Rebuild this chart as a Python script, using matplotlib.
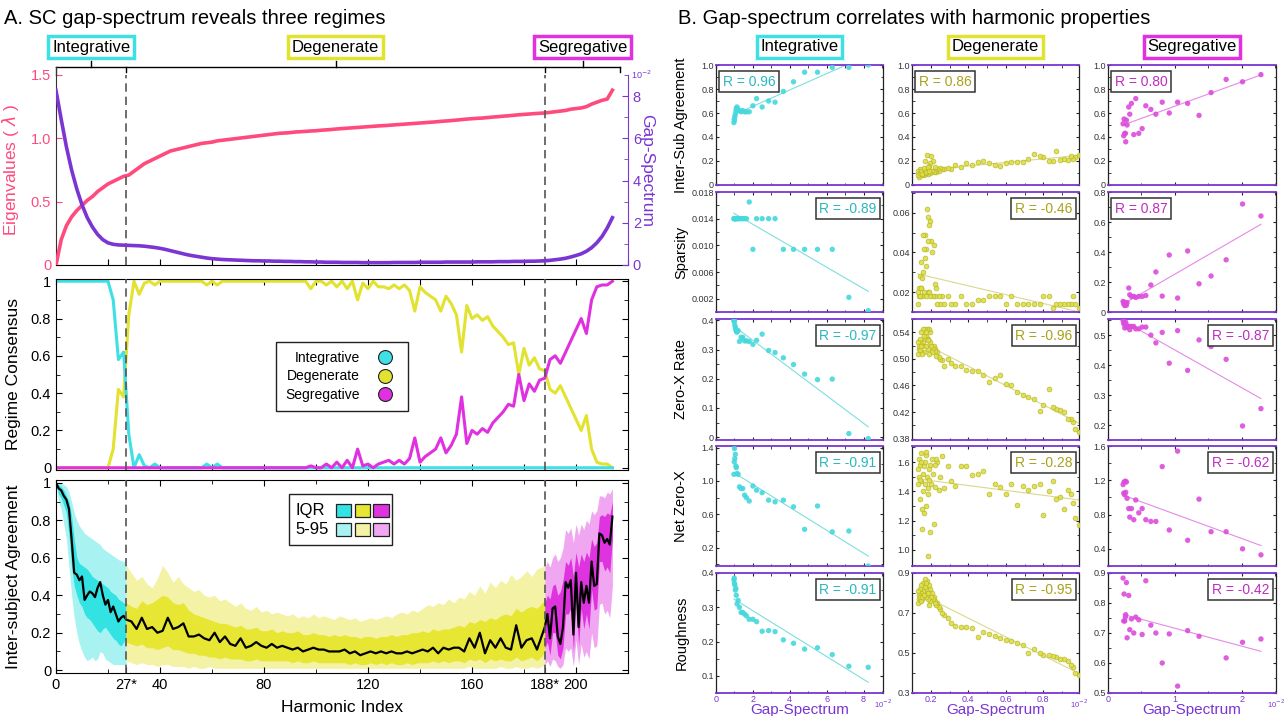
import numpy as np
import matplotlib.pyplot as plt
from matplotlib.lines import Line2D
from matplotlib.patches import Rectangle
from matplotlib.ticker import MultipleLocator

plt.rcParams['font.family'] = ['Liberation Sans', 'DejaVu Sans']

W, H = 1287, 716

# colours
PINK = '#ff4a7e'
PURPLE = '#7a35d2'
CYAN = '#3ee0e6'
YEL = '#e2e230'
MAG = '#e030e0'
CYAN_D, CYAN_L = '#33e3e3', '#a8f2f2'
YEL_D, YEL_L = '#e6e633', '#f4f2a4'
MAG_D, MAG_L = '#e033e0', '#f0a6f0'
DASH = '#555555'

regime_names = ['Integrative', 'Degenerate', 'Segregative']
regime_cols = [CYAN, YEL, MAG]
bounds = [0, 27, 188, 217]

# ---------------- panel A data (index grid step 2) ----------------
harm = np.arange(0, 215, 2)
eig = [0.00, 0.20, 0.31, 0.38, 0.43, 0.47, 0.51, 0.54, 0.58, 0.61,
       0.64, 0.66, 0.68, 0.70, 0.71, 0.74, 0.77, 0.80, 0.82, 0.84,
       0.86, 0.88, 0.90, 0.91, 0.92, 0.93, 0.94, 0.95, 0.96, 0.965,
       0.97, 0.98, 0.985, 0.99, 0.995, 1.00, 1.005, 1.01, 1.015, 1.02,
       1.025, 1.03, 1.035, 1.04, 1.042, 1.045, 1.05, 1.052, 1.055, 1.058,
       1.06, 1.064, 1.067, 1.07, 1.074, 1.077, 1.08, 1.083, 1.086, 1.089,
       1.092, 1.095, 1.098, 1.10, 1.103, 1.106, 1.109, 1.112, 1.115, 1.118,
       1.121, 1.124, 1.127, 1.13, 1.134, 1.137, 1.14, 1.144, 1.148, 1.152,
       1.155, 1.158, 1.16, 1.164, 1.168, 1.171, 1.175, 1.178, 1.182, 1.186,
       1.189, 1.192, 1.195, 1.198, 1.20, 1.205, 1.21, 1.215, 1.22, 1.23,
       1.235, 1.24, 1.25, 1.27, 1.285, 1.30, 1.31, 1.38]
gap = [8.27, 6.9, 5.6, 4.5, 3.6, 2.85, 2.25, 1.8, 1.45, 1.2,
       1.05, 0.98, 0.95, 0.94, 0.93, 0.92, 0.91, 0.89, 0.86, 0.83,
       0.79, 0.74, 0.68, 0.62, 0.56, 0.50, 0.45, 0.41, 0.37, 0.33,
       0.30, 0.28, 0.26, 0.25, 0.24, 0.23, 0.22, 0.21, 0.20, 0.20,
       0.19, 0.19, 0.18, 0.18, 0.17, 0.17, 0.16, 0.16, 0.15, 0.15,
       0.14, 0.14, 0.13, 0.13, 0.13, 0.12, 0.12, 0.12, 0.12, 0.11,
       0.11, 0.11, 0.11, 0.11, 0.11, 0.12, 0.12, 0.12, 0.12, 0.12,
       0.13, 0.13, 0.13, 0.13, 0.13, 0.14, 0.14, 0.14, 0.14, 0.14,
       0.14, 0.15, 0.15, 0.15, 0.15, 0.16, 0.16, 0.16, 0.17, 0.17,
       0.17, 0.18, 0.18, 0.19, 0.20, 0.22, 0.25, 0.28, 0.32, 0.38,
       0.45, 0.53, 0.65, 0.82, 1.05, 1.35, 1.75, 2.24]

cons_int = ([1.0] * 11 + [0.9, 0.58, 0.62, 0.18, 0.0, 0.07, 0.01, 0.0, 0.02]
            + [0.0] * 9 + [0.02, 0.0, 0.02] + [0.0] * 76)
cons_deg = ([0.0] * 11 + [0.1, 0.42, 0.38, 0.82, 1.0, 0.93, 0.99, 1.0, 0.98]
            + [1.0] * 9 + [0.98, 1.0, 0.98] + [1.0] * 17
            + [0.96, 1.0, 1.0, 0.98, 1.0, 0.97, 1.0, 0.96, 1.0, 0.9,
               0.99, 0.96, 1.0, 0.97, 0.97, 0.96, 0.98, 0.96, 0.98, 0.95,
               0.84, 0.97, 0.94, 0.92, 0.9, 0.84, 0.92, 0.88, 0.82, 0.62,
               0.87, 0.8, 0.82, 0.79, 0.81, 0.76, 0.73, 0.7, 0.66, 0.67,
               0.5, 0.64, 0.55, 0.59, 0.53, 0.52, 0.42, 0.4, 0.44, 0.38,
               0.32, 0.26, 0.2, 0.28, 0.1, 0.03, 0.02, 0.02, 0.0])
cons_seg = ([0.0] * 49
            + [0.01, 0.0, 0.0, 0.02, 0.0, 0.03, 0.0, 0.04, 0.0, 0.1,
               0.01, 0.02, 0.0, 0.02, 0.03, 0.04, 0.02, 0.04, 0.02, 0.05,
               0.16, 0.03, 0.06, 0.08, 0.1, 0.16, 0.08, 0.12, 0.18, 0.38,
               0.13, 0.2, 0.18, 0.21, 0.19, 0.24, 0.27, 0.3, 0.34, 0.33,
               0.5, 0.36, 0.45, 0.41, 0.47, 0.48, 0.58, 0.6, 0.56, 0.62,
               0.68, 0.74, 0.8, 0.72, 0.9, 0.97, 0.98, 0.98, 1.0])

# inter-subject agreement, per regime
int_idx = np.arange(0, 28)
int_med = [1.0, 0.97, 0.96, 0.93, 0.91, 0.86, 0.70, 0.52, 0.51, 0.48,
           0.50, 0.375, 0.40, 0.42, 0.41, 0.39, 0.44, 0.47, 0.40, 0.35,
           0.375, 0.31, 0.34, 0.30, 0.26, 0.28, 0.29, 0.27]
int_q3 = [1.0, 0.99, 0.98, 0.96, 0.93, 0.90, 0.82, 0.70, 0.60, 0.57,
          0.56, 0.55, 0.54, 0.52, 0.50, 0.49, 0.48, 0.47, 0.46, 0.45,
          0.44, 0.42, 0.41, 0.40, 0.38, 0.37, 0.36, 0.35]
int_q1 = [1.0, 0.94, 0.92, 0.88, 0.84, 0.72, 0.55, 0.45, 0.40, 0.36,
          0.34, 0.30, 0.28, 0.27, 0.25, 0.23, 0.21, 0.20, 0.22, 0.23,
          0.21, 0.19, 0.17, 0.16, 0.14, 0.13, 0.15, 0.18]
int_p95 = [1.0, 1.0, 1.0, 0.99, 0.98, 0.95, 0.90, 0.84, 0.80, 0.77,
           0.75, 0.73, 0.72, 0.71, 0.70, 0.69, 0.68, 0.67, 0.65, 0.64,
           0.63, 0.62, 0.61, 0.60, 0.59, 0.585, 0.58, 0.58]
int_p5 = [1.0, 0.90, 0.86, 0.78, 0.70, 0.55, 0.40, 0.28, 0.20, 0.14,
          0.10, 0.07, 0.05, 0.06, 0.07, 0.05, 0.06, 0.10, 0.09, 0.06,
          0.05, 0.04, 0.03, 0.03, 0.03, 0.03, 0.03, 0.03]

deg_idx = np.append(np.arange(27, 188, 2), 188)
deg_med = [0.27, 0.26, 0.22, 0.28, 0.22, 0.23, 0.20, 0.21, 0.28, 0.22,
           0.23, 0.25, 0.18, 0.18, 0.19, 0.17, 0.16, 0.20, 0.15, 0.18,
           0.14, 0.13, 0.17, 0.12, 0.13, 0.15, 0.13, 0.12, 0.14, 0.12,
           0.13, 0.12, 0.11, 0.12, 0.10, 0.11, 0.12, 0.11, 0.11, 0.10,
           0.10, 0.10, 0.11, 0.09, 0.10, 0.08, 0.09, 0.10, 0.09, 0.10,
           0.09, 0.10, 0.09, 0.09, 0.10, 0.09, 0.10, 0.11, 0.10, 0.12,
           0.09, 0.12, 0.11, 0.12, 0.12, 0.10, 0.17, 0.12, 0.20, 0.09,
           0.16, 0.12, 0.17, 0.12, 0.11, 0.24, 0.12, 0.16, 0.17, 0.11,
           0.19, 0.23]
deg_q3 = [0.36, 0.34, 0.33, 0.37, 0.35, 0.36, 0.38, 0.40, 0.39, 0.36,
          0.35, 0.36, 0.32, 0.30, 0.29, 0.28, 0.27, 0.26, 0.25, 0.25,
          0.24, 0.23, 0.24, 0.22, 0.22, 0.23, 0.21, 0.21, 0.22, 0.20,
          0.21, 0.20, 0.20, 0.21, 0.19, 0.19, 0.20, 0.19, 0.19, 0.18,
          0.19, 0.18, 0.19, 0.18, 0.18, 0.17, 0.18, 0.18, 0.17, 0.18,
          0.18, 0.19, 0.18, 0.19, 0.19, 0.20, 0.20, 0.21, 0.20, 0.22,
          0.21, 0.22, 0.22, 0.23, 0.24, 0.23, 0.26, 0.25, 0.27, 0.26,
          0.28, 0.27, 0.29, 0.30, 0.29, 0.33, 0.31, 0.33, 0.34, 0.33,
          0.36, 0.37]
deg_q1 = [0.15, 0.14, 0.13, 0.14, 0.12, 0.12, 0.11, 0.12, 0.13, 0.11,
          0.11, 0.10, 0.09, 0.09, 0.08, 0.08, 0.07, 0.07, 0.06, 0.07,
          0.06, 0.06, 0.06, 0.05, 0.05, 0.06, 0.05, 0.05, 0.05, 0.05,
          0.05, 0.05, 0.04, 0.05, 0.04, 0.04, 0.05, 0.04, 0.04, 0.04,
          0.04, 0.04, 0.04, 0.03, 0.04, 0.03, 0.03, 0.04, 0.03, 0.04,
          0.03, 0.04, 0.03, 0.03, 0.04, 0.03, 0.04, 0.04, 0.04, 0.05,
          0.04, 0.05, 0.04, 0.05, 0.05, 0.04, 0.06, 0.05, 0.06, 0.04,
          0.06, 0.05, 0.06, 0.05, 0.05, 0.07, 0.05, 0.06, 0.07, 0.05,
          0.08, 0.10]
deg_p95 = [0.56, 0.52, 0.48, 0.50, 0.46, 0.44, 0.49, 0.56, 0.52, 0.47,
           0.50, 0.46, 0.44, 0.42, 0.43, 0.40, 0.39, 0.40, 0.37, 0.38,
           0.36, 0.34, 0.36, 0.33, 0.32, 0.34, 0.31, 0.32, 0.30, 0.31,
           0.30, 0.29, 0.30, 0.28, 0.29, 0.28, 0.30, 0.28, 0.29, 0.28,
           0.27, 0.29, 0.28, 0.27, 0.28, 0.26, 0.27, 0.28, 0.27, 0.28,
           0.29, 0.28, 0.30, 0.31, 0.30, 0.32, 0.31, 0.33, 0.35, 0.34,
           0.36, 0.35, 0.38, 0.36, 0.39, 0.38, 0.42, 0.40, 0.45, 0.41,
           0.47, 0.44, 0.48, 0.46, 0.51, 0.48, 0.50, 0.53, 0.50, 0.54,
           0.55, 0.57]
deg_p5 = [0.05, 0.04, 0.03, 0.04, 0.03, 0.03, 0.02, 0.03, 0.03, 0.02,
          0.02, 0.02, 0.01, 0.02, 0.01, 0.01, 0.02, 0.01, 0.01, 0.01,
          0.01, 0.01, 0.01, 0.01, 0.01, 0.01, 0.01, 0.01, 0.01, 0.01,
          0.01, 0.01, 0.01, 0.01, 0.01, 0.01, 0.01, 0.01, 0.01, 0.01,
          0.01, 0.01, 0.01, 0.01, 0.01, 0.01, 0.01, 0.01, 0.01, 0.01,
          0.01, 0.01, 0.01, 0.01, 0.01, 0.01, 0.01, 0.01, 0.01, 0.01,
          0.01, 0.01, 0.01, 0.01, 0.01, 0.01, 0.02, 0.01, 0.01, 0.01,
          0.01, 0.01, 0.02, 0.01, 0.01, 0.02, 0.01, 0.01, 0.02, 0.01,
          0.02, 0.03]

seg_idx = np.arange(188, 215)
seg_med = [0.23, 0.30, 0.17, 0.33, 0.34, 0.18, 0.14, 0.23, 0.47, 0.44,
           0.48, 0.19, 0.52, 0.23, 0.47, 0.36, 0.45, 0.36, 0.58, 0.45,
           0.46, 0.73, 0.72, 0.68, 0.70, 0.67, 0.82]
seg_q3 = [0.36, 0.40, 0.38, 0.45, 0.46, 0.40, 0.42, 0.48, 0.58, 0.56,
          0.60, 0.50, 0.63, 0.55, 0.62, 0.58, 0.63, 0.60, 0.70, 0.66,
          0.68, 0.82, 0.83, 0.82, 0.84, 0.83, 0.90]
seg_q1 = [0.12, 0.15, 0.08, 0.20, 0.20, 0.08, 0.06, 0.12, 0.30, 0.30,
          0.33, 0.10, 0.38, 0.13, 0.33, 0.22, 0.30, 0.22, 0.43, 0.32,
          0.33, 0.58, 0.58, 0.53, 0.55, 0.52, 0.70]
seg_p95 = [0.55, 0.58, 0.55, 0.60, 0.62, 0.58, 0.60, 0.65, 0.75, 0.73,
           0.76, 0.68, 0.78, 0.72, 0.78, 0.75, 0.80, 0.78, 0.85, 0.83,
           0.85, 0.93, 0.93, 0.92, 0.95, 0.94, 0.97]
seg_p5 = [0.03, 0.05, 0.02, 0.06, 0.05, 0.02, 0.01, 0.03, 0.12, 0.10,
          0.12, 0.02, 0.16, 0.03, 0.14, 0.07, 0.10, 0.06, 0.20, 0.12,
          0.13, 0.35, 0.36, 0.30, 0.32, 0.28, 0.45]

# ---------------- panel B data ----------------
int_gap = [0.97, 0.99, 1.0, 1.02, 1.05, 1.08, 1.1, 1.14, 1.2, 1.27,
           1.36, 1.45, 1.55, 1.65, 1.8, 2.0, 2.2, 2.5, 2.85, 3.2,
           3.65, 4.2, 4.8, 5.5, 6.3, 7.2, 8.25]
int_agree = [0.52, 0.55, 0.54, 0.57, 0.59, 0.62, 0.64, 0.65, 0.63, 0.62,
             0.61, 0.62, 0.61, 0.61, 0.61, 0.66, 0.72, 0.65, 0.70, 0.69,
             0.78, 0.86, 0.94, 0.94, 0.98, 0.98, 1.0]
int_sparse = [0.014, 0.014, 0.014, 0.014, 0.014, 0.014, 0.014, 0.014, 0.014, 0.014,
              0.014, 0.014, 0.014, 0.014, 0.0165, 0.0094, 0.014, 0.014, 0.014, 0.014,
              0.0094, 0.0094, 0.0094, 0.0094, 0.0094, 0.0022, 0.0002]
int_zx = [0.40, 0.395, 0.40, 0.383, 0.375, 0.368, 0.362, 0.36, 0.365, 0.328,
          0.342, 0.342, 0.33, 0.33, 0.328, 0.318, 0.332, 0.353, 0.297, 0.29,
          0.272, 0.249, 0.216, 0.197, 0.199, 0.012, -0.005]
int_netzx = [1.08, 1.23, 1.39, 1.27, 1.32, 1.18, 1.16, 1.09, 1.08, 0.93,
             0.91, 0.91, 0.83, 0.80, 0.76, 0.94, 0.89, 0.86, 0.77, 0.75,
             0.77, 0.69, 0.42, 0.70, 0.39, 0.40, -0.02]
int_rough = [0.38, 0.385, 0.37, 0.365, 0.35, 0.355, 0.335, 0.31, 0.32, 0.30,
             0.285, 0.285, 0.28, 0.275, 0.265, 0.265, 0.258, 0.23, 0.232, 0.229,
             0.205, 0.195, 0.178, 0.182, 0.162, 0.128, 0.125]

deg_gap = [0.99, 0.97, 0.96, 0.95, 0.93, 0.91, 0.89, 0.87, 0.85, 0.83,
           0.80, 0.78, 0.75, 0.72, 0.69, 0.66, 0.63, 0.60, 0.57, 0.54,
           0.51, 0.48, 0.45, 0.42, 0.39, 0.36, 0.33, 0.31, 0.29, 0.27,
           0.26, 0.25, 0.245, 0.235, 0.23, 0.225, 0.22, 0.215, 0.21, 0.205,
           0.20, 0.198, 0.195, 0.19, 0.187, 0.183, 0.18, 0.177, 0.173, 0.17,
           0.167, 0.163, 0.16, 0.157, 0.153, 0.15, 0.147, 0.143, 0.14, 0.137,
           0.135, 0.133, 0.13, 0.14, 0.15, 0.155, 0.165, 0.175, 0.185, 0.192]
deg_agree = [0.25, 0.23, 0.22, 0.24, 0.21, 0.22, 0.21, 0.28, 0.20, 0.20,
             0.23, 0.24, 0.26, 0.22, 0.19, 0.19, 0.19, 0.18, 0.16, 0.17,
             0.18, 0.20, 0.19, 0.17, 0.18, 0.15, 0.17, 0.13, 0.14, 0.13,
             0.13, 0.14, 0.12, 0.13, 0.11, 0.12, 0.15, 0.11, 0.20, 0.12,
             0.24, 0.10, 0.18, 0.16, 0.11, 0.09, 0.25, 0.10, 0.13, 0.20,
             0.10, 0.08, 0.12, 0.09, 0.10, 0.11, 0.08, 0.13, 0.10, 0.07,
             0.09, 0.12, 0.08, 0.10, 0.12, 0.09, 0.14, 0.11, 0.15, 0.12]
deg_sparse = [0.012, 0.014, 0.018, 0.014, 0.014, 0.014, 0.014, 0.014, 0.012, 0.018,
              0.018, 0.014, 0.014, 0.014, 0.014, 0.014, 0.018, 0.014, 0.018, 0.018,
              0.018, 0.016, 0.016, 0.014, 0.014, 0.018, 0.014, 0.014, 0.018, 0.014,
              0.018, 0.014, 0.018, 0.014, 0.022, 0.018, 0.024, 0.044, 0.018, 0.040,
              0.046, 0.056, 0.018, 0.054, 0.046, 0.020, 0.062, 0.042, 0.018, 0.049,
              0.037, 0.020, 0.049, 0.030, 0.018, 0.035, 0.022, 0.018, 0.028, 0.022,
              0.018, 0.014, 0.020, 0.018, 0.022, 0.027, 0.042, 0.033, 0.058, 0.020]
deg_zx = [0.39, 0.395, 0.405, 0.41, 0.41, 0.42, 0.423, 0.425, 0.428, 0.455,
          0.43, 0.422, 0.44, 0.442, 0.446, 0.45, 0.46, 0.462, 0.476, 0.472,
          0.465, 0.476, 0.482, 0.482, 0.484, 0.49, 0.49, 0.494, 0.50, 0.49,
          0.498, 0.50, 0.503, 0.51, 0.505, 0.515, 0.512, 0.52, 0.517, 0.51,
          0.52, 0.54, 0.525, 0.545, 0.53, 0.515, 0.545, 0.535, 0.52, 0.545,
          0.53, 0.51, 0.545, 0.525, 0.52, 0.54, 0.51, 0.525, 0.53, 0.515,
          0.52, 0.508, 0.525, 0.513, 0.52, 0.507, 0.535, 0.54, 0.528, 0.508]
deg_netzx = [1.17, 1.22, 1.32, 1.38, 1.41, 1.28, 1.36, 1.35, 1.47, 1.40,
             1.24, 1.45, 1.44, 1.41, 1.44, 1.31, 1.45, 1.38, 1.43, 1.45,
             1.38, 1.54, 1.52, 1.51, 1.57, 1.57, 1.44, 1.47, 1.57, 1.42,
             1.64, 1.50, 1.41, 1.60, 1.62, 1.43, 1.58, 1.18, 1.52, 1.62,
             1.45, 1.58, 1.12, 1.55, 1.38, 0.96, 1.50, 1.65, 1.30, 1.45,
             1.60, 1.25, 1.52, 1.40, 1.14, 1.66, 1.47, 1.35, 1.58, 1.50,
             1.62, 1.45, 1.55, 1.48, 1.60, 1.28, 1.57, 1.67, 1.42, 1.48]
deg_rough = [0.39, 0.40, 0.43, 0.44, 0.46, 0.47, 0.47, 0.48, 0.485, 0.49,
             0.49, 0.50, 0.52, 0.50, 0.54, 0.55, 0.56, 0.565, 0.575, 0.585,
             0.595, 0.605, 0.58, 0.625, 0.63, 0.63, 0.635, 0.65, 0.675, 0.69,
             0.70, 0.72, 0.73, 0.75, 0.74, 0.76, 0.75, 0.78, 0.77, 0.80,
             0.78, 0.82, 0.76, 0.84, 0.80, 0.77, 0.86, 0.82, 0.78, 0.87,
             0.83, 0.79, 0.85, 0.81, 0.77, 0.84, 0.80, 0.76, 0.82, 0.79,
             0.77, 0.75, 0.81, 0.78, 0.76, 0.78, 0.79, 0.85, 0.80, 0.74]

seg_gap = [0.225, 0.235, 0.24, 0.25, 0.26, 0.265, 0.275, 0.285, 0.31, 0.325,
           0.35, 0.385, 0.415, 0.46, 0.51, 0.565, 0.64, 0.715, 0.81, 0.915,
           1.04, 1.19, 1.36, 1.54, 1.765, 2.01, 2.285]
seg_agree = [0.51, 0.41, 0.55, 0.43, 0.43, 0.36, 0.54, 0.50, 0.65, 0.59,
             0.68, 0.42, 0.72, 0.43, 0.47, 0.66, 0.63, 0.59, 0.69, 0.60,
             0.69, 0.68, 0.58, 0.77, 0.88, 0.86, 0.92]
seg_sparse = [0.07, 0.054, 0.066, 0.043, 0.05, 0.056, 0.045, 0.063, 0.16, 0.115,
              0.104, 0.104, 0.097, 0.104, 0.104, 0.11, 0.18, 0.267, 0.106, 0.38,
              0.093, 0.407, 0.188, 0.24, 0.348, 0.72, 0.64]
seg_zx = [0.55, 0.539, 0.544, 0.525, 0.534, 0.544, 0.53, 0.527, 0.53, 0.519,
          0.53, 0.53, 0.522, 0.522, 0.528, 0.528, 0.501, 0.475, 0.51, 0.407,
          0.516, 0.383, 0.485, 0.463, 0.42, 0.197, 0.255]
seg_netzx = [1.15, 1.05, 1.18, 1.03, 1.19, 1.06, 1.18, 0.99, 0.87, 0.77,
             0.87, 0.74, 0.97, 0.82, 0.87, 0.74, 0.72, 0.72, 1.36, 0.62,
             1.54, 0.50, 0.98, 0.60, 0.60, 0.40, 0.33]
seg_rough = [0.883, 0.74, 0.83, 0.74, 0.753, 0.761, 0.868, 0.684, 0.825, 0.711,
             0.747, 0.70, 0.753, 0.744, 0.695, 0.874, 0.726, 0.70, 0.60, 0.697,
             0.523, 0.708, 0.689, 0.85, 0.617, 0.669, 0.68]

row_names = ['Inter-Sub Agreement', 'Sparsity', 'Zero-X Rate', 'Net Zero-X', 'Roughness']
r_text = [['0.96', '-0.89', '-0.97', '-0.91', '-0.91'],
          ['0.86', '-0.46', '-0.96', '-0.28', '-0.95'],
          ['0.80', '0.87', '-0.87', '-0.62', '-0.42']]


def box(l, t, r, b):
    return [l / W, 1 - b / H, (r - l) / W, (b - t) / H]


def dashes(ax):
    for b in bounds[1:3]:
        ax.axvline(b, color=DASH, lw=1.2, ls=(0, (5, 3)), zorder=5)


fig = plt.figure(figsize=(W / 100, H / 100), dpi=100)
fig.text(4 / W, 1 - 18 / H, 'A. SC gap-spectrum reveals three regimes', fontsize=14.5, va='center')
fig.text(678 / W, 1 - 18 / H, 'B. Gap-spectrum correlates with harmonic properties', fontsize=14.5, va='center')

# ---------------- top: eigenvalues + gap spectrum ----------------
ax1 = fig.add_axes(box(56, 75, 628, 265))
ax1.plot(harm, eig, color=PINK, lw=2.6, zorder=3)
ax1.set_xlim(0, 220)
ax1.set_ylim(0, 1.5)
ax1.set_xticks(np.arange(0, 221, 20))
ax1.tick_params(axis='x', direction='in', labelbottom=False, length=4)
ax1.set_yticks([0, 0.5, 1.0, 1.5], ['0', '0.5', '1.0', '1.5'])
ax1.tick_params(axis='y', direction='in', colors=PINK, labelsize=10.5, length=4)
ax1.set_ylabel('Eigenvalues ( $\\lambda$ )', color=PINK, fontsize=12.5)
ax1.yaxis.set_label_coords(-0.062, 0.5)
ax1.spines['top'].set_visible(False)
ax1.spines['right'].set_visible(False)
ax1.spines['left'].set_color('#333333')
dashes(ax1)

ax2 = ax1.twinx()
ax2.plot(harm, gap, color=PURPLE, lw=2.6, zorder=3)
ax2.set_ylim(0, 9)
ax2.set_yticks([0, 2, 4, 6, 8])
ax2.yaxis.set_minor_locator(MultipleLocator(1))
ax2.tick_params(axis='y', which='both', direction='in', colors=PURPLE, labelsize=10.5)
ax2.tick_params(axis='y', which='major', length=4)
ax2.tick_params(axis='y', which='minor', length=3)
for s in ['top', 'left', 'bottom']:
    ax2.spines[s].set_visible(False)
ax2.spines['right'].set_color(PURPLE)
ax2.set_ylabel('Gap-Spectrum', color=PURPLE, fontsize=12.5, rotation=270)
ax2.yaxis.set_label_coords(1.045, 0.5)
ax2.text(1.005, 1.0, '10$^{-2}$', transform=ax2.transAxes, color=PURPLE,
         fontsize=6.5, ha='left', va='center')

# regime bracket and headers
tr = ax1.get_xaxis_transform()
yb = 1.044
ax1.plot([bounds[0], bounds[-1]], [yb, yb], color='k', lw=1.0, transform=tr, clip_on=False)
ax1.plot([0, 0], [1.0, yb], color='#333333', lw=1.0, transform=tr, clip_on=False)
for b in bounds[1:]:
    ax1.plot([b, b], [yb, 1.016], color='k', lw=1.0, transform=tr, clip_on=False)
for i in range(3):
    mid = (bounds[i] + bounds[i + 1]) / 2
    ax1.plot([mid, mid], [yb, 1.074], color='k', lw=1.0, transform=tr, clip_on=False)
    ax1.text(mid, 1.147, regime_names[i], transform=tr, ha='center', va='center', fontsize=12,
             bbox=dict(boxstyle='square,pad=0.22', fc='white', ec=regime_cols[i], lw=2.5))

# ---------------- middle: regime consensus ----------------
ax3 = fig.add_axes(box(56, 279, 628, 470))
ax3.plot(harm, cons_deg, color=YEL, lw=2.2)
ax3.plot(harm, cons_int, color=CYAN, lw=2.2)
ax3.plot(harm, cons_seg, color=MAG, lw=2.2)
ax3.set_xlim(0, 220)
ax3.set_ylim(-0.012, 1.012)
ax3.set_xticks(np.arange(0, 221, 20))
ax3.set_yticks(np.arange(0, 1.01, 0.2), ['0', '0.2', '0.4', '0.6', '0.8', '1'])
ax3.yaxis.set_minor_locator(MultipleLocator(0.1))
ax3.tick_params(which='both', direction='in', top=True, right=True, labelbottom=False,
                labelsize=10.5, length=4)
ax3.tick_params(which='minor', length=3)
ax3.set_ylabel('Regime Consensus', fontsize=12.5)
ax3.yaxis.set_label_coords(-0.062, 0.5)
dashes(ax3)
handles = [Line2D([], [], ls='none', marker='o', markersize=10, markerfacecolor=c,
                  markeredgecolor='#222222', markeredgewidth=0.8) for c in regime_cols]
ax3.legend(handles, regime_names, loc='center', bbox_to_anchor=(0.5, 0.49), markerfirst=False,
           fancybox=False, edgecolor='#222222', framealpha=1, fontsize=10, handletextpad=0.8,
           labelspacing=0.3, borderpad=0.7)

# ---------------- bottom: inter-subject agreement ----------------
ax4 = fig.add_axes(box(56, 480, 628, 673))
bands = [(int_idx, int_p5, int_q1, int_q3, int_p95, CYAN_L, CYAN_D),
         (deg_idx, deg_p5, deg_q1, deg_q3, deg_p95, YEL_L, YEL_D),
         (seg_idx, seg_p5, seg_q1, seg_q3, seg_p95, MAG_L, MAG_D)]
for x, p5, q1, q3, p95, light, dark in bands:
    ax4.fill_between(x, p5, p95, color=light, lw=0)
    ax4.fill_between(x, q1, q3, color=dark, lw=0)
ax4.plot(np.concatenate([int_idx, deg_idx, seg_idx]),
         np.concatenate([int_med, deg_med, seg_med]), color='k', lw=1.6, zorder=4)
ax4.set_xlim(0, 220)
ax4.set_ylim(-0.015, 1.015)
ax4.set_xticks([0, 27, 40, 80, 120, 160, 188, 200], ['0', '27*', '40', '80', '120', '160', '188*', '200'])
ax4.set_xticks(np.arange(0, 221, 20), minor=True)
ax4.set_yticks(np.arange(0, 1.01, 0.2), ['0', '0.2', '0.4', '0.6', '0.8', '1'])
ax4.yaxis.set_minor_locator(MultipleLocator(0.1))
ax4.tick_params(which='both', direction='in', top=True, right=True, labelsize=10.5, length=4)
ax4.tick_params(which='minor', length=3)
ax4.set_ylabel('Inter-subject Agreement', fontsize=12.5)
ax4.yaxis.set_label_coords(-0.062, 0.5)
ax4.set_xlabel('Harmonic Index', fontsize=12.5, labelpad=6)
dashes(ax4)
# band legend
ax4.add_patch(Rectangle((0.408, 0.665), 0.18, 0.26, transform=ax4.transAxes, fc='white',
                        ec='#222222', lw=1.0, zorder=6))
ax4.text(0.418, 0.84, 'IQR', transform=ax4.transAxes, fontsize=12, va='center', zorder=7)
ax4.text(0.418, 0.745, '5-95', transform=ax4.transAxes, fontsize=12, va='center', zorder=7)
for j, (dark, light) in enumerate([(CYAN_D, CYAN_L), (YEL_D, YEL_L), (MAG_D, MAG_L)]):
    x0 = 0.489 + j * 0.033
    ax4.add_patch(Rectangle((x0, 0.808), 0.027, 0.066, transform=ax4.transAxes, fc=dark,
                            ec='#222222', lw=0.9, zorder=7))
    ax4.add_patch(Rectangle((x0, 0.712), 0.027, 0.066, transform=ax4.transAxes, fc=light,
                            ec='#222222', lw=0.9, zorder=7))

# ---------------- panel B grid ----------------
cols = [(716, 883), (912, 1079), (1108, 1276)]
rows = [(65, 185), (192, 312), (319, 440), (446, 566), (573, 693)]
col_gap = [int_gap, deg_gap, seg_gap]
col_vals = [[int_agree, int_sparse, int_zx, int_netzx, int_rough],
            [deg_agree, deg_sparse, deg_zx, deg_netzx, deg_rough],
            [seg_agree, seg_sparse, seg_zx, seg_netzx, seg_rough]]
xlims = [(0, 9.05), (0.1, 0.99), (0, 2.51)]
xticks = [[0, 2, 4, 6, 8], [0.2, 0.4, 0.6, 0.8], [0, 1, 2]]
xticklabels = [['0', '2', '4', '6', '8'], ['0.2', '0.4', '0.6', '0.8'], ['0', '1', '2']]
xminor = [1, 0.1, 0.5]
ylims = [[(0, 1.0), (0, 1.0), (0, 1.0)],
         [(0, 0.018), (0.01, 0.0705), (0, 0.8)],
         [(-0.01, 0.405), (0.378, 0.56), (0.15, 0.555)],
         [(-0.02, 1.42), (0.89, 1.71), (0.2, 1.6)],
         [(0.05, 0.4), (0.3, 0.9), (0.5, 0.9)]]
yticks = [[[0, 0.2, 0.4, 0.6, 0.8, 1.0]] * 3,
          [[0.002, 0.006, 0.010, 0.014, 0.018], [0.02, 0.04, 0.06], [0, 0.2, 0.4, 0.6, 0.8]],
          [[0, 0.1, 0.2, 0.3, 0.4], [0.38, 0.42, 0.46, 0.50, 0.54], [0.2, 0.3, 0.4, 0.5]],
          [[0.2, 0.6, 1.0, 1.4], [1.0, 1.2, 1.4, 1.6], [0.4, 0.8, 1.2, 1.6]],
          [[0.1, 0.2, 0.3, 0.4], [0.3, 0.5, 0.7, 0.9], [0.5, 0.6, 0.7, 0.8, 0.9]]]
ydec = [[1, 1, 1], [3, 2, 1], [1, 2, 1], [1, 1, 1], [1, 1, 1]]
yminor = [[0.1, 0.1, 0.1], [0.002, 0.01, 0.1], [0.05, 0.02, 0.05], [0.2, 0.1, 0.2], [0.05, 0.1, 0.05]]
dot_face = ['#45d8dc', '#dede45', '#dc4cdc']
dot_edge = ['none', '#b5b52a', 'none']
dot_size = [15, 12, 15]
fit_col = ['#7ddede', '#d9d98a', '#e58ae5']
txt_col = ['#2ab8bf', '#a8a21c', '#c02cc0']

for c in range(3):
    cx = (cols[c][0] + cols[c][1]) / 2
    fig.text(cx / W, 1 - 47 / H, regime_names[c], ha='center', va='center', fontsize=12,
             bbox=dict(boxstyle='square,pad=0.22', fc='white', ec=regime_cols[c], lw=2.5))
    gx = np.array(col_gap[c])
    for r in range(5):
        ax = fig.add_axes(box(cols[c][0], rows[r][0], cols[c][1], rows[r][1]))
        gy = np.array(col_vals[c][r])
        ax.scatter(gx, gy, s=dot_size[c], c=dot_face[c], edgecolors=dot_edge[c], linewidths=0.5,
                   alpha=0.9, zorder=3)
        k, b0 = np.polyfit(gx, gy, 1)
        xs = np.array([gx.min(), gx.max()])
        ax.plot(xs, k * xs + b0, color=fit_col[c], lw=0.8, zorder=2)
        ax.set_xlim(*xlims[c])
        ax.set_ylim(*ylims[r][c])
        ax.set_xticks(xticks[c])
        ax.xaxis.set_minor_locator(MultipleLocator(xminor[c]))
        yt = yticks[r][c]
        ax.set_yticks(yt, ['0' if v == 0 else f'{v:.{ydec[r][c]}f}' for v in yt])
        ax.yaxis.set_minor_locator(MultipleLocator(yminor[r][c]))
        ax.tick_params(which='both', direction='in', top=True, right=True, labelsize=6.5,
                       length=2.5, pad=1.5, colors='#222222', labelcolor='#333333')
        ax.tick_params(which='minor', length=1.8)
        for s in ['left', 'right']:
            ax.spines[s].set_color('#222222')
            ax.spines[s].set_linewidth(0.9)
        for s in ['top', 'bottom']:
            ax.spines[s].set_color(PURPLE)
            ax.spines[s].set_linewidth(1.3)
        if r == 4:
            ax.set_xticklabels(xticklabels[c])
            ax.tick_params(axis='x', labelcolor=PURPLE)
            ax.set_xlabel('Gap-Spectrum', color=PURPLE, fontsize=11, labelpad=-1)
            ax.text(1.0, -0.04, '10$^{-2}$', transform=ax.transAxes, color=PURPLE,
                    fontsize=5.5, ha='center', va='top')
        else:
            ax.tick_params(axis='x', labelbottom=False)
        if c == 0:
            ax.set_ylabel(row_names[r], fontsize=10.5)
            ax.yaxis.set_label_coords(-0.165, 0.5)
        rt = r_text[c][r]
        pos = not rt.startswith('-')
        ax.text(0.04 if pos else 0.96, 0.92, 'R = ' + rt, transform=ax.transAxes,
                ha='left' if pos else 'right', va='top', fontsize=10, color=txt_col[c],
                bbox=dict(boxstyle='square,pad=0.25', fc='white', ec='#333333', lw=1.1), zorder=5)

fig.savefig('out.png', dpi=100)
